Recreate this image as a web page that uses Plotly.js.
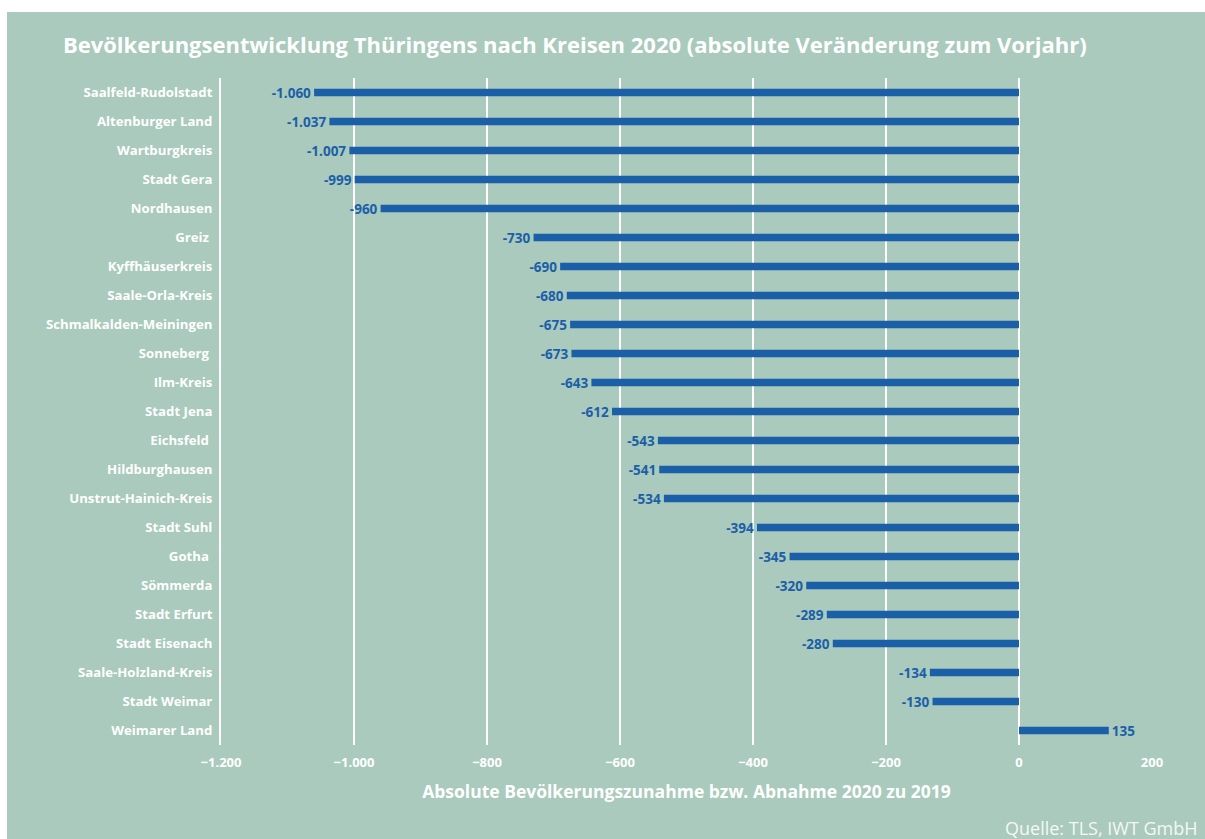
<!DOCTYPE html>
<html>
<head>
<meta charset="utf-8">
<script src="https://cdn.plot.ly/plotly-3.0.1.min.js"></script>
<style>
    body { margin: 0; background: #ffffff; }
    #population-plot { position: absolute; left: 7px; top: 12px; width: 1198px; height: 827px; }
</style>
</head>
<body>
<div id="population-plot"></div>
<script>
// Bevölkerungsentwicklung Thüringen 2020, Kreise

const districts = [
    'Saalfeld-Rudolstadt', 'Altenburger Land', 'Wartburgkreis', 'Stadt Gera', 'Nordhausen',
    'Greiz\u00a0', 'Kyffhäuserkreis', 'Saale-Orla-Kreis', 'Schmalkalden-Meiningen', 'Sonneberg\u00a0',
    'Ilm-Kreis', 'Stadt Jena', 'Eichsfeld\u00a0', 'Hildburghausen', 'Unstrut-Hainich-Kreis',
    'Stadt Suhl', 'Gotha\u00a0', 'Sömmerda', 'Stadt Erfurt', 'Stadt Eisenach',
    'Saale-Holzland-Kreis', 'Stadt Weimar', 'Weimarer Land'
];

const changes = [
    -1060, -1037, -1007, -999, -960,
    -730, -690, -680, -675, -673,
    -643, -612, -543, -541, -534,
    -394, -345, -320, -289, -280,
    -134, -130, 135
];

const tickValues = [-1200, -1000, -800, -600, -400, -200, 0, 200];

const BG = '#a9cabc';
const BAR_BLUE = '#1c5fa9';
const FONT = '"Open Sans", "DejaVu Sans", sans-serif';

function drawPopulationPlot() {
    const trace = {
        x: changes,
        y: districts,
        type: 'bar',
        orientation: 'h',
        width: 0.26,
        marker: { color: BAR_BLUE },
        texttemplate: '%{x:,d}',
        textposition: 'outside',
        constraintext: 'none',
        cliponaxis: false,
        textfont: { family: FONT, size: 13.5, color: BAR_BLUE, weight: 'bold' },
        hoverinfo: 'x+y'
    };

    const layout = {
        paper_bgcolor: BG,
        plot_bgcolor: BG,
        separators: ',.',
        margin: { l: 214, r: 53, t: 66, b: 94 },
        showlegend: false,
        font: { family: FONT, color: '#ffffff' },
        title: {
            text: 'Bevölkerungsentwicklung Thüringens nach Kreisen 2020 (absolute Veränderung zum Vorjahr)',
            font: { family: FONT, size: 22, color: '#ffffff', weight: 'bold' },
            x: 0.474,
            xanchor: 'center',
            y: 0.96,
            yanchor: 'middle'
        },
        xaxis: {
            range: [-1200, 200],
            tickvals: tickValues,
            tickformat: ',d',
            showgrid: true,
            gridcolor: '#ffffff',
            gridwidth: 2,
            zeroline: true,
            zerolinecolor: '#ffffff',
            zerolinewidth: 2,
            showline: false,
            ticks: '',
            ticklabelstandoff: 8,
            tickfont: { family: FONT, size: 13, color: '#ffffff', weight: 'bold' },
            title: {
                text: 'Absolute Bevölkerungszunahme bzw. Abnahme 2020 zu 2019',
                font: { family: FONT, size: 17.5, color: '#ffffff', weight: 'bold' },
                standoff: 15
            }
        },
        yaxis: {
            autorange: 'reversed',
            showgrid: false,
            zeroline: false,
            showline: true,
            linecolor: '#ffffff',
            linewidth: 2,
            ticks: '',
            ticklabelstandoff: 4,
            tickfont: { family: FONT, size: 13.2, color: '#ffffff', weight: 'bold' }
        },
        annotations: [{
            text: 'Quelle: TLS, IWT GmbH',
            xref: 'paper',
            yref: 'paper',
            x: 1.0516,
            y: -0.124,
            xanchor: 'right',
            yanchor: 'middle',
            showarrow: false,
            font: { family: FONT, size: 18, color: '#f4f8f6' }
        }]
    };

    const config = {
        responsive: true,
        displayModeBar: false
    };

    Plotly.newPlot('population-plot', [trace], layout, config);
}

drawPopulationPlot();
</script>
</body>
</html>
